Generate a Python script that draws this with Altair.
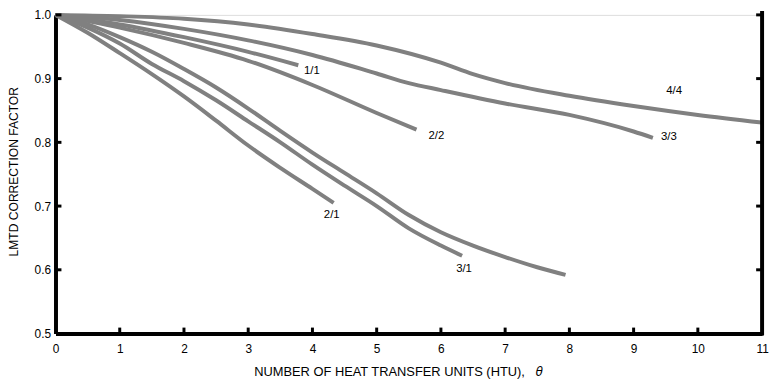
import altair as alt
import pandas as pd

# ---- data ----
x_4_4 = [0, 1, 2, 3, 4, 5, 6, 6.5, 7, 8, 9, 10, 11]
y_4_4 = [1.0, 0.998, 0.994, 0.985, 0.970, 0.952, 0.925, 0.907, 0.893, 0.873, 0.857, 0.843, 0.831]

x_3_3 = [0, 1, 2, 3, 4, 5, 5.5, 6, 7, 8, 9, 9.3]
y_3_3 = [1.0, 0.992, 0.978, 0.960, 0.937, 0.908, 0.893, 0.882, 0.861, 0.843, 0.817, 0.807]

x_1_1 = [0, 1, 2, 3, 3.78]
y_1_1 = [1.0, 0.985, 0.965, 0.942, 0.921]

x_2_2 = [0, 1, 2, 3, 4, 5, 5.62]
y_2_2 = [1.0, 0.980, 0.956, 0.928, 0.890, 0.846, 0.820]

x_2_1 = [0, 0.5, 1, 1.5, 2, 2.5, 3, 3.5, 4, 4.33]
y_2_1 = [1.0, 0.972, 0.940, 0.907, 0.872, 0.834, 0.795, 0.760, 0.727, 0.705]

x_3_1 = [0, 0.5, 1, 1.5, 2, 2.5, 3, 3.5, 4, 4.5, 5, 5.5, 6, 6.33]
y_3_1 = [1.0, 0.980, 0.955, 0.923, 0.896, 0.866, 0.833, 0.800, 0.765, 0.732, 0.700, 0.665, 0.638, 0.622]

x_4_1 = [0, 0.5, 1, 1.5, 2, 2.5, 3, 3.5, 4, 4.5, 5, 5.5, 6, 6.5, 7, 7.5, 7.94]
y_4_1 = [1.0, 0.985, 0.965, 0.942, 0.915, 0.886, 0.853, 0.818, 0.784, 0.752, 0.720, 0.686, 0.659, 0.638, 0.620, 0.604, 0.592]

label_text = ["1/1", "2/2", "2/1", "3/1", "3/3", "4/4"]
label_x = [3.99, 5.93, 4.30, 6.36, 9.55, 9.63]
label_y = [0.912, 0.810, 0.686, 0.601, 0.809, 0.880]

x_ticks = [1, 2, 3, 4, 5, 6, 7, 8, 9, 10]
y_ticks = [0.6, 0.7, 0.8, 0.9, 1.0]

# ---- build tables ----
series = [("4/4", x_4_4, y_4_4), ("3/3", x_3_3, y_3_3), ("1/1", x_1_1, y_1_1),
          ("2/2", x_2_2, y_2_2), ("2/1", x_2_1, y_2_1), ("3/1", x_3_1, y_3_1),
          ("4/1", x_4_1, y_4_1)]
rows = []
for name, xs, ys in series:
    for i, (xv, yv) in enumerate(zip(xs, ys)):
        rows.append({"series": name, "x": xv, "y": yv, "order": i})
lines_df = pd.DataFrame(rows)
labels_df = pd.DataFrame({"text": label_text, "x": label_x, "y": label_y})
xt_df = pd.DataFrame({"x": x_ticks})
yt_df = pd.DataFrame({"y": y_ticks})

W, H = 714, 322
FONT = "Liberation Sans"

xscale = alt.Scale(domain=[0, 11], nice=False, zero=False)
yscale = alt.Scale(domain=[0.5, 1.0], nice=False, zero=False)

xaxis = alt.Axis(values=list(range(0, 12)), format="d", ticks=False, tickSize=0, grid=False,
                 domainColor="black", domainWidth=4, labelPadding=10, labelFontSize=12,
                 labelColor="black", labelFont=FONT, labelFlush=False,
                 title="NUMBER OF HEAT TRANSFER UNITS (HTU),\u00a0\u00a0\u00a0\U0001D703",
                 titleFont=FONT, titleFontSize=13, titleFontWeight="normal", titleColor="black",
                 titleX=346, titleY=38, titleAlign="center", titleBaseline="middle")
yaxis = alt.Axis(values=[0.5, 0.6, 0.7, 0.8, 0.9, 1.0], format=".1f", ticks=False, tickSize=0,
                 grid=False, domainColor="black", domainWidth=4, labelPadding=5,
                 labelFontSize=12, labelColor="black", labelFont=FONT, labelFlush=False,
                 title="LMTD CORRECTION FACTOR", titleFont=FONT, titleFontSize=12.2,
                 titleFontWeight="normal", titleColor="black", titleAngle=-90,
                 titleX=-42, titleY=158, titleAlign="center", titleBaseline="middle")

lines = alt.Chart(lines_df).mark_line(color="#808080", strokeWidth=4, interpolate="monotone",
                                      strokeCap="butt").encode(
    x=alt.X("x:Q", scale=xscale, axis=xaxis),
    y=alt.Y("y:Q", scale=yscale, axis=yaxis),
    detail="series:N",
    order="order:Q",
)

labels = alt.Chart(labels_df).mark_text(font=FONT, fontSize=11.5, color="black").encode(
    x=alt.X("x:Q", scale=xscale),
    y=alt.Y("y:Q", scale=yscale),
    text="text:N",
)

left_ticks = alt.Chart(yt_df).mark_rule(color="black", strokeWidth=3).encode(
    y=alt.Y("y:Q", scale=yscale), x=alt.value(0), x2=alt.value(6))
right_ticks = alt.Chart(yt_df).mark_rule(color="black", strokeWidth=3).encode(
    y=alt.Y("y:Q", scale=yscale), x=alt.value(W - 6), x2=alt.value(W))
bottom_ticks = alt.Chart(xt_df).mark_rule(color="black", strokeWidth=3).encode(
    x=alt.X("x:Q", scale=xscale), y=alt.value(H - 6), y2=alt.value(H))
right_axis = alt.Chart(xt_df.head(1)).mark_rule(color="black", strokeWidth=4).encode(
    x=alt.value(W), y=alt.value(-4), y2=alt.value(H + 2))

chart = alt.layer(lines, labels, left_ticks, right_ticks, bottom_ticks, right_axis).properties(
    width=W, height=H,
    autosize=alt.AutoSizeParams(type="none"),
    padding={"left": 48, "top": 5, "right": 8, "bottom": 45},
).configure_view(stroke=None).configure(background="white")

chart.save("out.html", embed_options={"renderer": "svg", "actions": False})
